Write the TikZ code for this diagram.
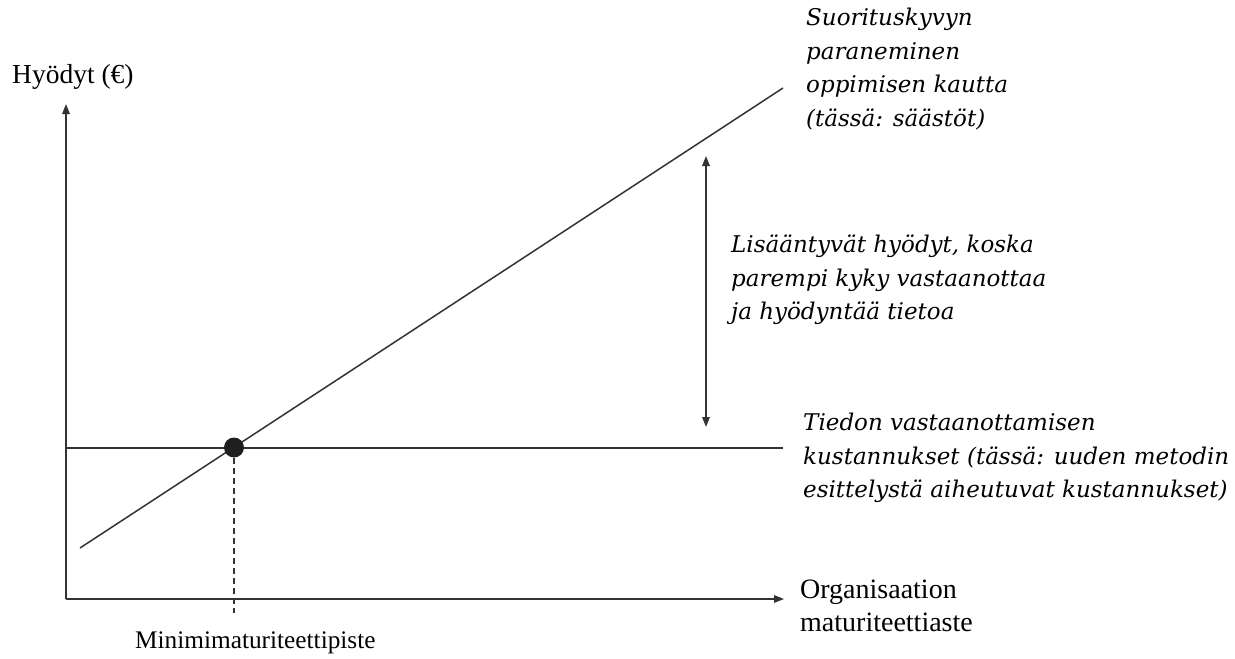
\documentclass[tikz,border=0pt]{standalone}
\usepackage{fontspec}
\setmainfont{Liberation Serif}
\newfontfamily\itfont{DejaVu Serif}[UprightFont=*  Italic]
\usetikzlibrary{arrows.meta}
\definecolor{ink}{HTML}{333333}
\tikzset{
  tip/.tip={Triangle[length=10pt,width=7.5pt]},
  axis/.style={draw=ink, line width=1.6pt, -tip},
  curve/.style={draw=ink, line width=1.5pt},
  span/.style={draw=ink, line width=1.5pt, tip-tip},
  guide/.style={draw=ink, line width=1.4pt, dash pattern=on 6pt off 4pt},
  plain/.style={inner sep=0pt, align=left},
  note/.style={inner sep=0pt, align=left, font=\itfont\fontsize{23}{33.5}\selectfont},
}
\begin{document}
\begin{tikzpicture}[x=1pt,y=-1pt]
\useasboundingbox (0,0) rectangle (1235,659);
% axes
\coordinate (O) at (66,599);
\coordinate (ytip) at (66,104);
\coordinate (xtip) at (784,599);
\draw[axis] (O) -- (ytip);
\draw[axis] (O) -- (xtip);
% cost level and benefit line
\coordinate (costL) at (66,448);
\coordinate (costR) at (783,448);
\draw[curve] (costL) -- (costR);
\coordinate (gainL) at (80,548);
\coordinate (gainR) at (783,88);
\draw[curve] (gainL) -- (gainR);
% break-even point
\coordinate (foot) at (234,613);
\draw[guide] (234,448) -- (foot);
\node[circle, fill=black!88, minimum size=20pt, inner sep=0pt] (pt) at (234,447.5) {};
% benefit gap
\coordinate (gapTop) at (706,156);
\coordinate (gapBot) at (706,427);
\draw[span] (gapTop) -- (gapBot);
% labels
\node[plain, anchor=west, font=\fontsize{27.5}{33}\selectfont] (ylab) at (12,77) {Hyödyt (€)};
\node[plain, anchor=west, font=\fontsize{28}{33}\selectfont] (xlab) at (800,606) {Organisaation\\maturiteettiaste};
\node[plain, anchor=west, font=\fontsize{25.3}{30}\selectfont] (minlab) at (135,643) {Minimimaturiteettipiste};
\node[note, anchor=north west] (perf) at (806,8) {Suorituskyvyn\\paraneminen\\oppimisen kautta\\(tässä: säästöt)};
\node[note, anchor=north west] (gain) at (731,235) {Lisääntyvät hyödyt, koska\\parempi kyky vastaanottaa\\ja hyödyntää tietoa};
\node[note, anchor=north west] (cost) at (803,413) {Tiedon vastaanottamisen\\kustannukset (tässä: uuden metodin\\esittelystä aiheutuvat kustannukset)};
\end{tikzpicture}
\end{document}
